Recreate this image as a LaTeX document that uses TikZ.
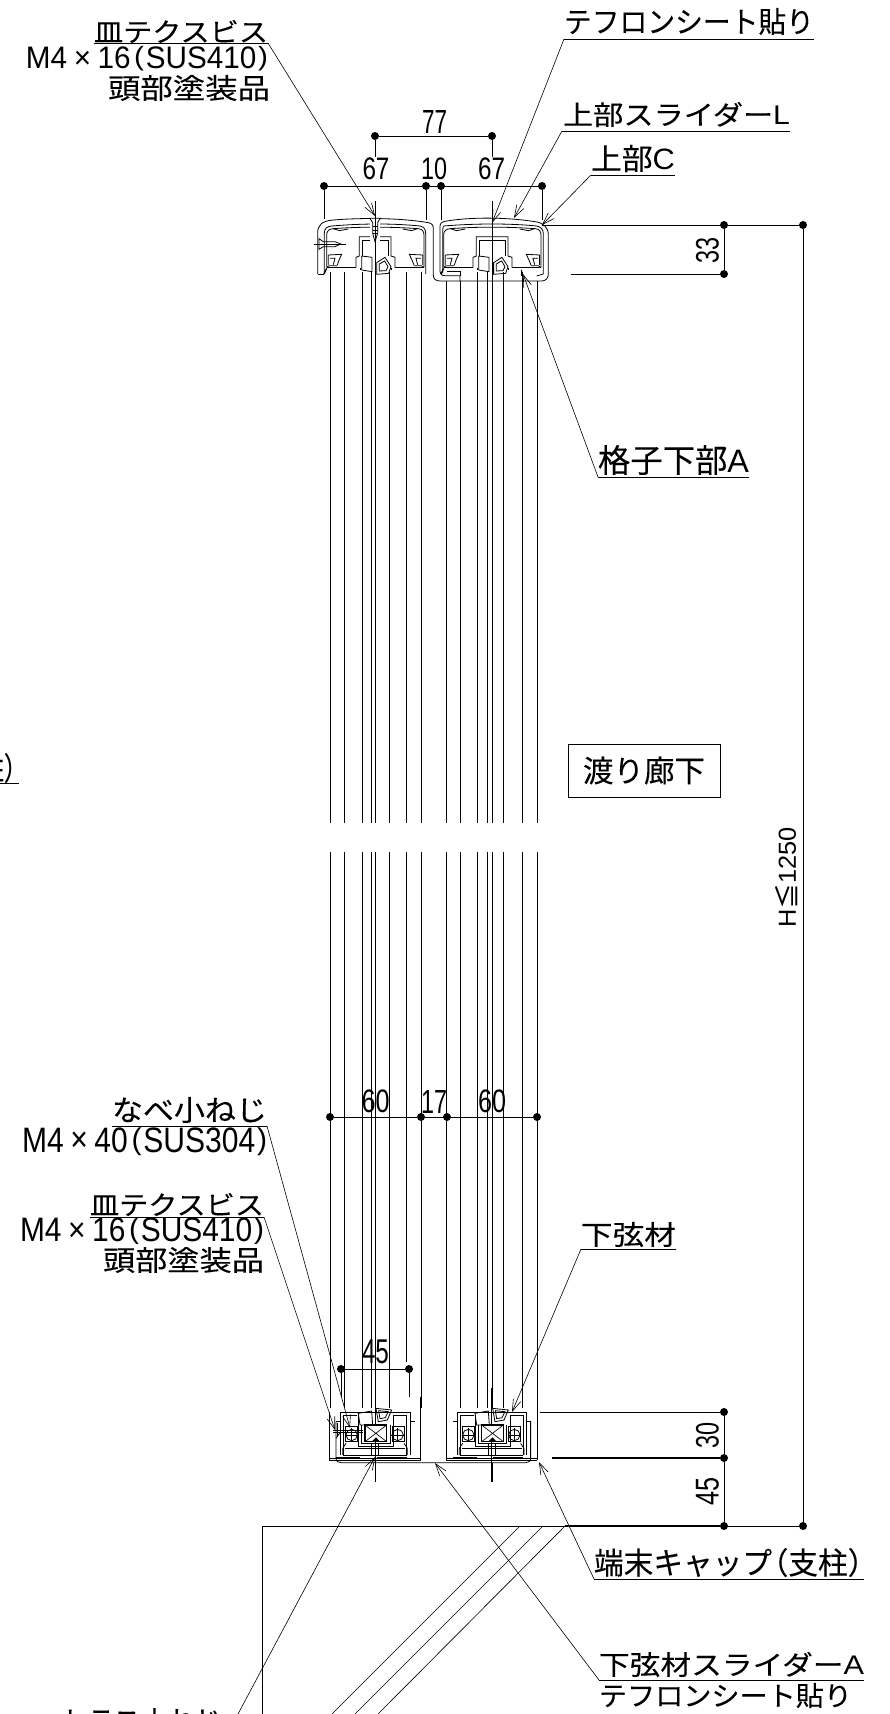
\documentclass[tikz,border=0pt]{standalone}
\usepackage{graphicx}
\usepackage{fontspec}
\setmainfont{Liberation Sans}
\newfontfamily\jp[FakeBold=0.12]{Noto Sans CJK JP}
\usetikzlibrary{arrows.meta}
\newcommand\fitbox[3]{\resizebox*{#1pt}{#2pt}{#3}}
\newcommand\pl{\kern.12em\smash{\raisebox{.1em}{\scalebox{1}[.85]{(}}}\kern.06em}
\newcommand\pr{\kern.06em\smash{\raisebox{.1em}{\scalebox{1}[.85]{)}}}}
\newcommand\jpl{{\jp\kern-.45em（}}
\newcommand\jpr{{\jp）\kern-.45em}}
\newcommand\tm{\kern.22em\raisebox{.02em}{×}\kern.22em}
\tikzset{
  lbl/.style={inner sep=0pt,outer sep=0pt,anchor=north west},
  num/.style={inner sep=0pt,outer sep=0pt,anchor=center},
  dot/.style={circle,fill=black,inner sep=0pt,minimum size=8pt},
  thinl/.style={line width=.65pt},
  medl/.style={line width=.9pt},
  part/.style={line width=.8pt},
  leader/.style={line width=.6pt,-{Straight Barb[length=12pt,width=8pt,line width=.6pt]}},
  uline/.style={line width=.9pt},
}
% upper slider, drawn in crop units (3 per pixel)
\newcommand\topblk{
  \draw[part] (140,292)--(140,195) .. controls (140,182) and (148,177) .. (160,176) .. controls (240,170) and (330,170) .. (415,176) .. controls (427,177) and (432,184) .. (432,195)--(432,292);
  \draw[part] (160,176)--(178,182)--(205,177);
  \draw[part] (412,176)--(395,182)--(368,177);
  \draw[part] (140,293)--(228,293) (345,293)--(432,293);
  \draw[part] (228,293)--(228,262)--(238,258)--(238,200)--(333,200)--(333,258)--(345,262)--(345,293);
  \draw[part] (247,258)--(247,210)--(325,210)--(325,258);
  \draw[part] (240,293)--(240,300) (335,293)--(335,300);
  \draw[part] (145,285)--(145,255)--(185,253)--(178,268)--(172,285) (150,265)--(165,265)--(160,284);
  \draw[part] (428,285)--(428,255)--(388,253)--(395,268)--(402,285) (423,265)--(408,265)--(413,284);
  \draw[part] (140,292)--(148,287)--(172,287) (432,292)--(424,287)--(402,287);
  \draw[part] (245,258)--(276,262)--(276,305)--(245,300)--cycle;
  \draw[part] (290,278)--(315,262)--(333,290)--(326,310)--(290,313)--cycle;
  \draw[part] (298,282)--(314,273)--(324,290)--(318,302)--(298,303)--cycle;
  \draw[line width=1.3pt] (132,312)--(140,295);
}
% lower slider
\newcommand\botblk{
  \draw[part] (122,225)--(122,97)--(330,97)--(330,225);
  \draw[part] (130,225)--(130,105)--(172,105) (282,105)--(320,105)--(320,225);
  \draw[part] (175,105)--(175,200)--(280,200)--(280,105);
  \draw[part] (185,135)--(185,190)--(270,190)--(270,135);
  \draw[line width=1.1pt] (195,135) rectangle (260,185);
  \draw[thinl] (195,135)--(260,185) (260,135)--(195,185);
  \fill[black] (215,185)--(228,172)--(240,185)--cycle;
  \draw[part] (215,190)--(215,225)--(235,225)--(235,190);
  \draw[part] (137,185) -- (172,185) -- (172,140) -- (137,140) -- cycle;
  \draw[part] (155,165) circle (17);
  \draw[part] (293,165) circle (17);
  \draw[thinl] (155,145)--(155,185) (135,165)--(175,165) (293,145)--(293,185) (273,165)--(313,165);
  \draw[part] (276,140) rectangle (312,185);
  \draw[part] (135,205)--(315,205);
  \draw[part] (130,225)--(320,225);
  \draw[part] (128,225)--(128,205)--(138,190) (322,225)--(322,205)--(312,190);
  \draw[part] (175,100)--(215,93)--(218,135)--(180,135)--cycle;
  \draw[part] (228,85)--(275,90)--(262,120)--(235,125)--cycle;
  \draw[part] (236,92)--(265,95)--(256,113)--(240,116)--cycle;
  \draw[line width=1.6pt] (108,233)--(180,233) (230,233)--(320,233);
  \draw[part] (108,125)--(122,125) (330,125)--(344,125);
}
\begin{document}
\begin{tikzpicture}[x=1pt,y=-1pt]
\path[use as bounding box] (0,0) rectangle (890,1714);
\clip (0,0) rectangle (890,1714);
\fill[white] (0,0) rectangle (890,1714);

% ---- vertical members, above and below the break
\foreach \vx in {330,344,362,371,389,406,421,477,487,503,522}{
  \draw[thinl] (\vx,272)--(\vx,823);
}
\foreach \vx in {446,460,537}{
  \draw[thinl] (\vx,281)--(\vx,823);
}
\foreach \vx in {330,344,362,371,389,406,421,446,460,477,487,503,522,537}{
  \draw[thinl] (\vx,852)--(\vx,1362);
}
\foreach \vx in {330,421,446,537}{\draw[thinl] (\vx,1362)--(\vx,1460);}
\foreach \vx in {344,362,371,389}{\draw[thinl] (\vx,1362)--(\vx,1412);}
\foreach \vx in {460,477,487,503,522}{\draw[thinl] (\vx,1362)--(\vx,1412);}
\foreach \vx in {375,492}{
  \draw[thinl] (\vx,201)--(\vx,823);
  \draw[thinl] (\vx,852)--(\vx,1482);
}

% ---- top assembly
\begin{scope}[shift={(280,170)},x=.3333pt,y=-.3333pt]
  \fill[white] (113,150) rectangle (805,300);
  \draw[part] (113,312)--(113,190) .. controls (113,165) and (125,153) .. (160,150) .. controls (260,142) and (370,145) .. (445,158) .. controls (455,160) and (460,165) .. (460,175)--(460,315) .. controls (460,327) and (467,333) .. (480,333)--(785,333) .. controls (797,333) and (805,325) .. (805,312)--(805,195) .. controls (805,172) and (790,158) .. (765,155) .. controls (670,140) and (560,142) .. (495,154) .. controls (485,156) and (480,160) .. (480,170)--(480,305) .. controls (480,312) and (485,317) .. (495,317)--(540,317)--(540,333);
  \draw[part] (113,312)--(133,312);
  \draw[part] (133,312)--(133,190) .. controls (133,175) and (140,170) .. (155,168) .. controls (250,160) and (340,160) .. (420,168) .. controls (432,170) and (437,178) .. (437,190)--(437,312)--(437,312);
  \draw[part] (490,168) .. controls (590,160) and (690,160) .. (770,168) .. controls (782,170) and (790,178) .. (790,190)--(790,312);
  \draw[part] (488,310)--(488,190) .. controls (488,175) and (490,170) .. (490,168);
  \draw[part] (500,305)--(540,305)--(540,317);
  \draw[part] (725,300)--(725,318) (770,318)--(790,312);
  \topblk
  \begin{scope}[shift={(351,0)}]
    \topblk
  \end{scope}
  % flat head screw on top of the left slider
  \fill[white] (270,145) rectangle (300,215);
  \draw[part] (270,145)--(300,145)--(293,158)--(293,190)--(285,215)--(278,190)--(278,158)--cycle;
  \draw[part] (278,170)--(293,170) (278,180)--(293,180) (278,190)--(293,190);
  \draw[thinl] (285,95)--(285,300) (636,95)--(636,300);
  % side screw
  \draw[thinl] (103,222)--(197,222);
  \draw[part] (117,206)--(130,215)--(165,215)--(182,222)--(165,230)--(130,230)--(117,238)--cycle;
\end{scope}

% ---- bottom assembly
\begin{scope}[shift={(300,1380)},x=.3333pt,y=-.3333pt]
  \fill[white] (88,85) rectangle (712,248);
  \draw[part] (88,240)--(362,240) (438,240)--(712,240);
  \draw[line width=1.3pt] (88,236)--(362,236) (438,236)--(712,236);
  \draw[part] (88,95)--(88,240) (362,50)--(362,240) (438,50)--(438,240) (712,50)--(712,240);
  \draw[part] (108,125)--(108,233) .. controls (108,243) and (113,248) .. (122,248)--(678,248) .. controls (687,248) and (692,243) .. (692,233)--(692,125);
  \botblk
  \begin{scope}[shift={(350,0)}]
    \botblk
  \end{scope}
  \draw[thinl] (225,25)--(225,135) (225,185)--(225,305) (575,25)--(575,135) (575,185)--(575,305);
  \draw[thinl] (100,150)--(190,150) (100,158)--(190,158);
  \draw[thinl] (112,130)--(112,172);
  \draw[part] (108,175)--(122,155);
\end{scope}

% ---- stair / base lines at the bottom
\draw[medl] (262,1526)--(565,1526);
\draw[thinl] (262,1526)--(262,1714);
\draw[thinl] (520,1526)--(332,1714);
\draw[thinl] (543,1526)--(355,1714);
\draw[thinl] (565,1526)--(378,1714);

% ---- dimension points
\node[dot] (a1) at (375,136) {};
\node[dot] (a2) at (492,136) {};
\node[dot] (b1) at (324,186) {};
\node[dot] (b2) at (426,186) {};
\node[dot] (b3) at (441,186) {};
\node[dot] (b4) at (542,186) {};
\node[dot] (c1) at (724,225) {};
\node[dot] (c2) at (803,225) {};
\node[dot] (c3) at (724,274) {};
\node[dot] (e1) at (330,1117) {};
\node[dot] (e2) at (421,1117) {};
\node[dot] (e3) at (447,1117) {};
\node[dot] (e4) at (537,1117) {};
\node[dot] (f1) at (341,1369) {};
\node[dot] (f2) at (409,1369) {};
\node[dot] (g1) at (724,1412) {};
\node[dot] (g2) at (724,1458) {};
\node[dot] (g3) at (724,1526) {};
\node[dot] (g4) at (803,1526) {};

\coordinate (x33a) at (542,225);
\coordinate (x33b) at (571,274);
\coordinate (x30a) at (540,1412);
\coordinate (x30b) at (552,1458);
\coordinate (x45) at (565,1526);
\coordinate (xf1) at (341,1397);
\coordinate (xf2) at (409,1397);
\coordinate (xa1) at (375,157);
\coordinate (xa2) at (492,157);
\coordinate (xb1) at (324,219);
\coordinate (xb2) at (426,220);
\coordinate (xb3) at (441,220);
\coordinate (xb4) at (542,220);

\draw[thinl] (a1)--(a2) (a1)--(xa1) (a2)--(xa2);
\draw[medl] (b1)--(b2) (b2)--(b3) (b3)--(b4);
\draw[thinl] (b1)--(xb1) (b2)--(xb2) (b3)--(xb3) (b4)--(xb4);
\draw[medl] (x33a)--(c1) (c1)--(c2) (x33b)--(c3);
\draw[thinl] (c1)--(c3) (c2)--(g4) (g1)--(g2) (g2)--(g3);
\draw[medl] (e1)--(e2) (e2)--(e3) (e3)--(e4);
\draw[thinl] (f1)--(f2) (f1)--(xf1) (f2)--(xf2);
\draw[thinl] (x30a)--(g1);
\draw[line width=1.2pt] (x30b)--(g2) (x45)--(g3);
\draw[medl] (g3)--(g4);

% ---- dimension figures
\node[num] (n77) at (434.5,121.5) {\fitbox{25}{23}{77}};
\node[num] (n67a) at (376,169) {\fitbox{27}{22}{67}};
\node[num] (n10) at (434,169) {\fitbox{26}{22}{10}};
\node[num] (n67b) at (491.5,169) {\fitbox{27}{22}{67}};
\node[num] (n60a) at (375.5,1101.5) {\fitbox{28}{23}{60}};
\node[num] (n17) at (434,1101.5) {\fitbox{26}{23}{17}};
\node[num] (n60b) at (492,1101.5) {\fitbox{28}{23}{60}};
\node[num] (n45a) at (375.5,1352) {\fitbox{27}{24}{45}};
\node[num,rotate=90] (n33) at (707.5,250) {\fitbox{26}{23}{33}};
\node[num,rotate=90] (n30) at (707.5,1435) {\fitbox{26}{23}{30}};
\node[num,rotate=90] (n45b) at (707.5,1491) {\fitbox{28}{23}{45}};
\node[num,rotate=90] (nH) at (786,877) {\fitbox{100}{22}{H{\jp ≦}1250}};

% ---- box
\node[draw,line width=.8pt,inner sep=0pt,minimum width=152pt,minimum height=53pt] (wb) at (644,770.5) {\fitbox{122}{28}{\jp 渡り廊下}};

% ---- label texts
\node[lbl] (t1) at (94,20) {\fitbox{174}{23}{\jp 皿テクスビス}};
\node[lbl] (t2) at (26,47) {\fitbox{242}{22}{M4\tm 16\pl SUS410\pr}};
\node[lbl] (t3) at (108,75) {\fitbox{162}{26}{\jp 頭部塗装品}};
\node[lbl] (t4) at (564,8) {\fitbox{250}{27}{\jp テフロンシート貼り}};
\node[lbl] (t5) at (563,102) {\fitbox{227}{25}{{\jp 上部スライダー}L}};
\node[lbl] (t6) at (591,145) {\fitbox{84}{27}{{\jp 上部}C}};
\node[lbl] (t7) at (598,445) {\fitbox{151}{30}{{\jp 格子下部}A}};
\node[lbl] (t8) at (112,1097) {\fitbox{155}{26}{\jp なべ小ねじ}};
\node[lbl] (t9) at (22,1128) {\fitbox{245}{25}{M4\tm 40\pl SUS304\pr}};
\node[lbl] (t10) at (90,1193) {\fitbox{174}{23}{\jp 皿テクスビス}};
\node[lbl] (t11) at (20,1218) {\fitbox{244}{24}{M4\tm 16\pl SUS410\pr}};
\node[lbl] (t12) at (103,1247) {\fitbox{161}{26}{\jp 頭部塗装品}};
\node[lbl] (t13) at (581,1222) {\fitbox{95}{25}{\jp 下弦材}};
\node[lbl] (t14) at (594,1548) {\fitbox{270}{29}{{\jp 端末キャップ}\jpl{\jp 支柱}\jpr}};
\node[lbl] (t15) at (599,1652) {\fitbox{265}{25}{{\jp 下弦材スライダー}A}};
\node[lbl] (t16) at (599,1683) {\fitbox{253}{25}{\jp テフロンシート貼り}};
\node[lbl] (t17) at (60,1708) {\fitbox{162}{27}{\jp トラス小ねじ}};
\node[lbl] (t18) at (-20,753) {\fitbox{37}{30}{{\jp 柱}\jpr}};

% ---- underlines with their leaders
\coordinate (u1l) at (94,43);   \coordinate (u1r) at (268,43);   \coordinate (p1) at (375,216);
\coordinate (u2l) at (564,39);  \coordinate (u2r) at (814,39);   \coordinate (p2) at (492,223);
\coordinate (u3l) at (562,131); \coordinate (u3r) at (790,131);  \coordinate (p3) at (514,218);
\coordinate (u4l) at (591,175); \coordinate (u4r) at (675,175);  \coordinate (p4) at (542,225);
\coordinate (u5l) at (598,477); \coordinate (u5r) at (749,477);  \coordinate (p5) at (523,274);
\coordinate (u6l) at (112,1126);\coordinate (u6r) at (267,1126); \coordinate (p6) at (350,1428);
\coordinate (u7l) at (90,1217); \coordinate (u7r) at (264,1217); \coordinate (p7) at (335,1430);
\coordinate (u8l) at (581,1249);\coordinate (u8r) at (676,1249); \coordinate (p8) at (512,1412);
\coordinate (u9l) at (594,1579);\coordinate (u9r) at (864,1579); \coordinate (p9) at (539,1462);
\coordinate (u10l) at (599,1680);\coordinate (u10r) at (864,1680);\coordinate (p10) at (435,1463);
\coordinate (u11r) at (238,1714);\coordinate (p11) at (375,1457);
\coordinate (u12l) at (0,783);  \coordinate (u12r) at (19,783);

\draw[uline] (u1l)--(u1r) (u2l)--(u2r) (u3l)--(u3r) (u4l)--(u4r) (u5l)--(u5r) (u6l)--(u6r) (u7l)--(u7r) (u8l)--(u8r) (u9l)--(u9r) (u10l)--(u10r) (u12l)--(u12r);
\draw[leader] (u1r)--(p1);
\draw[leader] (u2l)--(p2);
\draw[leader] (u3l)--(p3);
\draw[leader] (u4l)--(p4);
\draw[leader] (u5l)--(p5);
\draw[leader] (u6r)--(p6);
\draw[leader] (u7r)--(p7);
\draw[leader] (u8l)--(p8);
\draw[leader] (u9l)--(p9);
\draw[leader] (u10l)--(p10);
\draw[leader] (u11r)--(p11);
\end{tikzpicture}
\end{document}
